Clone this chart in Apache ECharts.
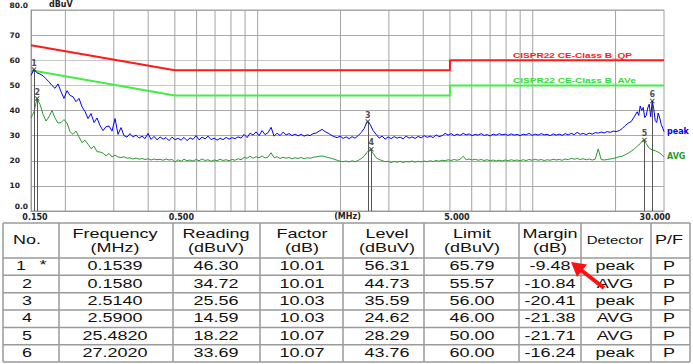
<!DOCTYPE html>
<html><head><meta charset="utf-8">
<script src="https://cdn.jsdelivr.net/npm/echarts@6/dist/echarts.min.js"></script>
<style>html,body{margin:0;padding:0;background:#fff}#c{width:693px;height:364px}</style>
</head><body><div id="c"></div><script>
// ---- sweep frequencies (MHz) shared by both traces
const freqMHz = [
0.1500,0.1538,0.1577,0.1617,0.1659,0.1701,0.1744,0.1788,0.1834,0.1880,0.1928,
0.1977,0.2028,0.2079,0.2132,0.2186,0.2242,0.2299,0.2358,0.2418,0.2479,0.2542,
0.2607,0.2673,0.2741,0.2811,0.2882,0.2956,0.3031,0.3108,0.3187,0.3268,0.3351,
0.3436,0.3524,0.3613,0.3705,0.3799,0.3896,0.3995,0.4097,0.4201,0.4308,0.4418,
0.4530,0.4645,0.4763,0.4884,0.5009,0.5136,0.5267,0.5401,0.5538,0.5679,0.5823,
0.5972,0.6123,0.6279,0.6439,0.6603,0.6771,0.6943,0.7120,0.7301,0.7486,0.7677,
0.7872,0.8072,0.8278,0.8488,0.8704,0.8926,0.9153,0.9385,0.9624,0.9869,1.0120,
1.0378,1.0641,1.0912,1.1190,1.1474,1.1766,1.2066,1.2372,1.2687,1.3010,1.3341,
1.3680,1.4028,1.4385,1.4751,1.5126,1.5511,1.5905,1.6310,1.6725,1.7151,1.7587,
1.8034,1.8493,1.8963,1.9446,1.9940,2.0447,2.0968,2.1501,2.2048,2.2608,2.3184,
2.3773,2.4378,2.4998,2.5634,2.6286,2.6955,2.7640,2.8344,2.9064,2.9804,3.0562,
3.1339,3.2137,3.2954,3.3792,3.4652,3.5533,3.6437,3.7364,3.8314,3.9289,4.0288,
4.1313,4.2364,4.3442,4.4547,4.5680,4.6842,4.8034,4.9255,5.0508,5.1793,5.3110,
5.4462,5.5847,5.7268,5.8724,6.0218,6.1750,6.3320,6.4931,6.6583,6.8277,7.0013,
7.1795,7.3621,7.5494,7.7414,7.9383,8.1402,8.3473,8.5596,8.7774,9.0006,9.2296,
9.4644,9.7051,9.9520,10.205,10.465,10.731,11.004,11.284,11.571,11.865,12.167,
12.477,12.794,13.119,13.453,13.795,14.146,14.506,14.875,15.253,15.641,16.039,
16.447,16.866,17.295,17.735,18.186,18.648,19.123,19.609,20.108,20.620,21.144,
21.682,22.233,22.799,23.379,23.973,24.583,25.208,25.850,26.507,27.182,27.873,
28.582,29.309,30.000];
// ---- peak detector trace (dBuV)
const peakLevel = [
54.0,56.3,55.0,54.5,53.8,52.6,51.4,50.0,48.8,50.6,47.5,
44.8,47.9,46.0,45.5,43.5,44.8,41.5,39.6,36.8,38.8,35.2,
37.0,34.0,32.0,33.6,33.8,31.8,36.8,30.5,33.2,30.0,29.4,
30.8,29.5,30.2,29.0,29.8,28.8,30.9,28.5,29.7,28.3,29.5,
28.6,29.2,28.0,29.4,28.4,28.9,28.2,29.3,28.0,29.1,28.5,
30.0,28.3,29.4,28.7,29.8,28.4,29.0,28.2,28.9,28.4,29.3,
28.6,29.2,28.8,29.5,29.0,30.5,29.2,31.0,30.2,31.5,30.0,
32.0,30.4,31.2,33.3,29.8,31.0,30.0,31.4,30.3,30.8,30.0,
30.6,29.9,30.5,29.8,30.3,30.0,30.8,31.0,31.8,32.5,31.6,
31.0,30.2,29.6,29.2,29.8,28.9,29.5,28.8,29.6,29.0,30.0,
31.2,32.8,35.6,34.5,32.0,30.5,29.0,29.8,28.6,29.5,28.8,
29.6,29.0,29.4,28.7,29.8,29.0,29.5,28.9,29.7,29.1,30.0,
29.3,29.8,29.2,30.3,29.6,30.0,30.9,30.2,30.8,30.0,30.6,
30.1,30.9,30.3,30.7,30.0,30.5,30.2,30.8,30.1,30.4,29.9,
30.6,30.2,30.8,30.3,30.6,30.1,30.7,30.2,30.5,30.0,30.6,
30.3,30.9,30.1,30.6,30.2,30.8,30.3,30.5,30.0,30.7,30.2,
30.6,30.1,30.8,30.3,30.9,30.4,31.3,30.5,30.9,30.4,31.0,
30.6,31.2,31.0,31.4,31.1,31.6,31.3,31.8,31.6,32.0,32.8,
34.0,35.0,35.6,37.5,39.5,41.8,41.2,38.0,42.5,43.8,36.0,
39.0,34.5,31.6];
// extra peak readings inside the 24-30 MHz burst
const burstFreq = [24.276,24.894,25.527,26.177,26.842,27.526,28.225,28.943,29.679];
const burstPeak = [38.0,40.0,37.2,41.0,37.5,40.8,35.2,37.0,33.0];
// ---- average detector trace (dBuV)
const avgLevel = [
37.0,39.5,44.7,42.5,38.5,35.8,37.5,40.0,37.0,35.0,35.2,
36.4,35.0,31.6,30.5,31.8,29.5,27.2,28.2,26.6,24.8,25.8,
23.6,23.5,23.0,22.0,22.9,21.5,22.2,21.5,21.3,21.6,21.0,
21.2,20.7,21.1,20.6,20.9,20.5,20.8,20.3,20.7,20.4,20.6,
20.2,20.7,20.3,20.5,19.5,20.4,19.8,20.6,20.0,20.3,19.9,
20.5,20.0,20.7,20.1,20.4,19.8,20.3,20.0,20.6,20.1,20.4,
20.0,20.5,20.2,20.8,20.4,21.3,21.0,21.8,21.0,21.6,21.2,
21.9,21.1,21.5,23.2,21.2,21.6,20.9,21.4,21.0,21.3,20.8,
21.2,20.9,21.3,20.8,21.2,21.0,21.4,21.5,21.8,21.9,21.6,
21.3,21.0,20.6,20.2,19.8,19.6,19.9,19.5,20.0,19.6,20.1,
20.8,21.8,23.4,24.6,23.0,21.2,20.5,20.1,19.6,19.8,19.3,
19.7,19.4,19.8,19.3,19.7,19.5,19.9,19.4,19.8,19.5,19.9,
19.6,20.0,19.7,20.1,19.8,20.2,20.0,20.4,20.1,20.5,20.2,
20.6,21.8,20.4,20.7,20.3,20.6,20.2,20.5,20.1,20.4,20.0,
20.3,19.9,20.2,19.9,20.3,20.0,20.4,20.1,20.3,20.0,20.4,
20.1,20.5,20.2,20.6,20.2,20.5,20.1,20.4,20.2,20.6,20.3,
20.5,20.2,20.7,20.4,21.0,20.6,20.9,20.5,20.8,20.4,20.7,
20.3,20.6,24.7,20.5,20.3,20.5,20.7,20.9,21.2,21.6,21.8,
22.4,23.0,23.8,24.6,25.8,26.8,28.3,26.8,25.0,24.3,24.0,
23.4,22.6,21.5];
// ---- limit lines
const limitFreq = [0.15, 0.5, 5, 5, 30];
const qpLimit   = [66, 56, 56, 60, 60];
const avLimit   = [56, 46, 46, 50, 50];
const qpName = 'CISPR22 CE-Class B_QP';
const avName = 'CISPR22 CE-Class B_AVe';
// ---- axis ticks
const yTicks = [0,10,20,30,40,50,60,70,80];
const yTickLabels = ['0.0','10','20','30','40','50','60','70','80.0'];
const xTickValues = [0.15, 0.5, 5, 30];
const xTickLabels = ['0.150','0.500','5.000','30.000'];
const gridFreqs = [0.2,0.3,0.4,0.5,0.6,0.7,0.8,0.9,1,2,3,4,5,6,7,8,9,10,20];
// ---- markers / result table
const markerNo   = [1,2,3,4,5,6];
const markerStar = ['*','','','','',''];
const markerFreq = [0.1539,0.1580,2.5140,2.5900,25.4820,27.2020];
const readingDb  = [46.30,34.72,25.56,14.59,18.22,33.69];
const factorDb   = [10.01,10.01,10.03,10.03,10.07,10.07];
const levelDb    = [56.31,44.73,35.59,24.62,28.29,43.76];
const limitDb    = [65.79,55.57,56.00,46.00,50.00,60.00];
const marginDb   = [-9.48,-10.84,-20.41,-21.38,-21.71,-16.24];
const detector   = ['peak','AVG','peak','AVG','AVG','peak'];
const passFail   = ['P','P','P','P','P','P'];
const tableHead  = [['No.'],['Frequency','(MHz)'],['Reading','(dBuV)'],['Factor','(dB)'],['Level','(dBuV)'],['Limit','(dBuV)'],['Margin','(dB)'],['Detector'],['P/F']];

// ================= build =================
const chart = echarts.init(document.getElementById('c'), null, {renderer:'svg'});
const peakData = freqMHz.map((f,i)=>[f,peakLevel[i]])
  .concat(burstFreq.map((f,i)=>[f,burstPeak[i]])).sort((a,b)=>a[0]-b[0]);
const avgData = freqMHz.map((f,i)=>[f,avgLevel[i]]);
const yMin = yTicks[0], yMax = yTicks[yTicks.length-1];
// vertical grid as one broken polyline through the axes
const gridData = [];
gridFreqs.forEach(f=>{ gridData.push([f,yMin],[f,yMax],[f,'-']); });
const axFont = {fontFamily:'"DejaVu Sans", Arial, sans-serif', fontWeight:'bold', fontSize:8, color:'#222'};

// table graphics
const colX = [3,59,173,260,343,424,519,581,651,690];
const rowY = [223,258,275.35,292.7,310.05,327.4,344.75,362.1];
const txtX = [27,115,216,302,387,472,550,615,669];
const tableFont = '12px "Liberation Sans", Arial, sans-serif';
const SX = 1.5;
function tx(text, x, y, font, opts){
  return Object.assign({type:'text', x:x, y:y, scaleX:SX, z:20,
    style:{text:text, fill:'#111', font:font, align:'center', verticalAlign:'middle',
      textAlign:'center', textVerticalAlign:'middle'}}, opts||{});
}
const g = [];
rowY.forEach(y=>g.push({type:'line', z:15, shape:{x1:colX[0],y1:y,x2:colX[colX.length-1],y2:y}, style:{stroke:'#9a9a9a', lineWidth:1.5}}));
colX.forEach(x=>g.push({type:'line', z:15, shape:{x1:x,y1:rowY[0],x2:x,y2:rowY[rowY.length-1]}, style:{stroke:'#9a9a9a', lineWidth:1.5}}));
tableHead.forEach((h,c)=>{
  const f = h[0]==='Detector' ? '10px "Liberation Sans", Arial, sans-serif' : tableFont;
  if(h.length===2){ g.push(tx(h[0], txtX[c], 234, f)); g.push(tx(h[1], txtX[c], 247.5, f)); }
  else g.push(tx(h[0], txtX[c], 240, f));
});
markerNo.forEach((n,i)=>{
  const y = (rowY[i+1]+rowY[i+2])/2 - 0.6;
  if(markerStar[i]){ g.push(tx(String(n), 21, y, tableFont)); g.push(tx(markerStar[i], 43, y-1, tableFont)); }
  else g.push(tx(String(n), txtX[0], y, tableFont));
  const cells = [markerFreq[i].toFixed(4), readingDb[i].toFixed(2), factorDb[i].toFixed(2), levelDb[i].toFixed(2),
    limitDb[i].toFixed(2), marginDb[i].toFixed(2), detector[i], passFail[i]];
  cells.forEach((s,c)=>g.push(tx(s, txtX[c+1], y, tableFont)));
});
// red arrow pointing to the worst margin
g.push({type:'line', z:25, shape:{x1:604,y1:288,x2:581,y2:270}, style:{stroke:'#ff1010', lineWidth:4}});
g.push({type:'polygon', z:25, shape:{points:[[571,262],[587,264.5],[577,277]]}, style:{fill:'#ff1010'}});
// limit names
g.push({type:'text', x:513, y:55.5, scaleX:1.44, z:20, style:{text:qpName, fill:'#ff1a1a', font:'bold 7px "Liberation Sans", Arial, sans-serif', align:'left', verticalAlign:'middle', textAlign:'left', textVerticalAlign:'middle'}});
g.push({type:'text', x:513, y:80.5, scaleX:1.44, z:20, style:{text:avName, fill:'#33dd33', font:'bold 7px "Liberation Sans", Arial, sans-serif', align:'left', verticalAlign:'middle', textAlign:'left', textVerticalAlign:'middle'}});

const xLabelPad = [[0,0,0,8],[0,0,0,13],[0,0,0,14],[0,18,0,0]];
const xRich = {}; xLabelPad.forEach((p,i)=>xRich['t'+i]={padding:p});

const option = {
  animation:false,
  grid:{left:31, right:29, top:10, bottom:153, show:true, borderColor:'#a0a0a0', borderWidth:1},
  xAxis:{type:'log', logBase:10, min:0.15, max:30,
    name:'(MHz)', nameLocation:'middle', nameGap:5, nameMoveOverlap:false, nameTextStyle:Object.assign({verticalAlign:'middle'}, axFont),
    axisLine:{show:true, lineStyle:{color:'#999', width:1}}, axisTick:{show:false}, splitLine:{show:false},
    axisLabel:Object.assign({customValues:xTickValues, margin:2, rich:xRich,
      formatter:(v)=>{const i=xTickValues.findIndex(t=>Math.abs(t-v)/t<1e-6); return i<0?'':'{t'+i+'|'+xTickLabels[i]+'}';}}, axFont)},
  yAxis:{type:'value', min:yMin, max:yMax, interval:10,
    name:'dBuV', nameLocation:'end', nameGap:2,
    nameTextStyle:Object.assign({align:'left', verticalAlign:'bottom', padding:[0,0,0,18]}, axFont),
    axisLine:{show:true, lineStyle:{color:'#999'}}, axisTick:{show:false},
    splitLine:{show:true, lineStyle:{color:['#aaaaaa','#aaaaaa','#aaaaaa','#aaaaaa','#aaaaaa','#c8c8c8','#c8c8c8','#aaaaaa','#aaaaaa'], width:1}},
    axisLabel:Object.assign({align:'right', margin:3,
      rich:{n:{padding:[0,8,0,0]}, e:{padding:[0,0,10,0]}},
      formatter:(v)=>{const i=yTicks.indexOf(v); const s=yTickLabels[i]; return (v===0||v===80)?'{e|'+s+'}':'{n|'+s+'}';}}, Object.assign({}, axFont, {fontSize:7.5}))},
  series:[
    {type:'line', name:'gridlines', data:gridData, z:1, silent:true, symbol:'none', connectNulls:false,
      lineStyle:{color:'#a3a3a3', width:1}},
    {type:'line', name:qpName, data:limitFreq.map((f,i)=>[f,qpLimit[i]]), symbol:'none', z:3,
      lineStyle:{color:'#ff1a1a', width:2}},
    {type:'line', name:avName, data:limitFreq.map((f,i)=>[f,avLimit[i]]), symbol:'none', z:3,
      lineStyle:{color:'#44ee44', width:2}},
    {type:'line', name:'AVG', data:avgData, symbol:'none', z:4,
      lineStyle:{color:'#2a9a2a', width:1},
      endLabel:{show:true, formatter:'AVG', color:'#2a9a2a', fontWeight:'bold', fontSize:8, fontFamily:'"DejaVu Sans", Arial', distance:3}},
    {type:'line', name:'peak', data:peakData, symbol:'none', z:5,
      lineStyle:{color:'#0000ff', width:1},
      endLabel:{show:true, formatter:'peak', color:'#0000ff', fontWeight:'bold', fontSize:8, fontFamily:'"DejaVu Sans", Arial', distance:3}},
    {type:'scatter', name:'markers', z:8,
      data:markerNo.map((n,i)=>[markerFreq[i], levelDb[i], n]),
      symbol:'path://M0,1.5L1.5,0L5,3.5L8.5,0L10,1.5L6.5,5L10,8.5L8.5,10L5,6.5L1.5,10L0,8.5L3.5,5Z',
      symbolSize:5, itemStyle:{color:'#333'},
      label:{show:true, position:'top', distance:0, formatter:(p)=>String(p.value[2]), color:'#222', fontSize:8, fontWeight:'bold', fontFamily:'"DejaVu Sans", Arial'},
      markLine:{silent:true, symbol:'none', label:{show:false}, lineStyle:{color:'#555', width:1, type:'solid'},
        data:markerNo.map((n,i)=>[{coord:[markerFreq[i], levelDb[i]]},{coord:[markerFreq[i], 0]}])}}
  ],
  graphic:g
};
chart.setOption(option);
</script></body></html>
